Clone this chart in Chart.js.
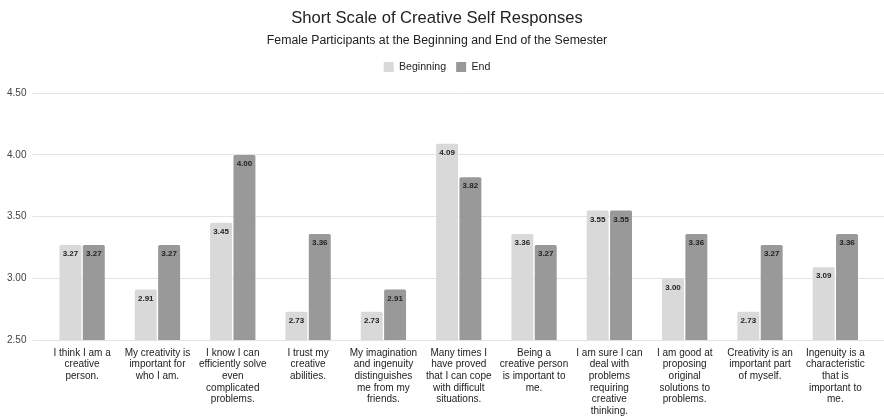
<!DOCTYPE html>
<html>
<head>
<meta charset="utf-8">
<script src="https://cdn.jsdelivr.net/npm/chart.js@4"></script>
<style>
  html, body { margin: 0; padding: 0; background: #fff; }
  #wrap { width: 884px; height: 416px; }
</style>
</head>
<body>
<div id="wrap"><canvas id="creativeChart"></canvas></div>
<script>
const statements = [
    ['I think I am a', 'creative', 'person.'],
    ['My creativity is', 'important for', 'who I am.'],
    ['I know I can', 'efficiently solve', 'even', 'complicated', 'problems.'],
    ['I trust my', 'creative', 'abilities.'],
    ['My imagination', 'and ingenuity', 'distinguishes', 'me from my', 'friends.'],
    ['Many times I', 'have proved', 'that I can cope', 'with difficult', 'situations.'],
    ['Being a', 'creative person', 'is important to', 'me.'],
    ['I am sure I can', 'deal with', 'problems', 'requiring', 'creative', 'thinking.'],
    ['I am good at', 'proposing', 'original', 'solutions to', 'problems.'],
    ['Creativity is an', 'important part', 'of myself.'],
    ['Ingenuity is a', 'characteristic', 'that is', 'important to', 'me.']
];
const beginning = [3.27, 2.91, 3.45, 2.73, 2.73, 4.09, 3.36, 3.55, 3.00, 2.73, 3.09];
const end = [3.27, 3.27, 4.00, 3.36, 2.91, 3.82, 3.27, 3.55, 3.36, 3.27, 3.36];
const yTicks = [2.5, 3.0, 3.5, 4.0, 4.5];

const FONT = "'Liberation Sans', Arial, sans-serif";

// value labels inside the top of each bar
const barValues = {
    id: 'barValues',
    afterDatasetsDraw(chart) {
        const ctx = chart.ctx;
        ctx.save();
        ctx.font = 'bold 8px ' + FONT;
        ctx.fillStyle = '#222';
        ctx.textAlign = 'center';
        ctx.textBaseline = 'middle';
        chart.data.datasets.forEach((ds, i) => {
            chart.getDatasetMeta(i).data.forEach((bar, j) => {
                ctx.fillText(ds.data[j].toFixed(2), bar.x, bar.y + 9);
            });
        });
        ctx.restore();
    }
};

// gridlines run on to the right edge of the canvas
const gridToEdge = {
    id: 'gridToEdge',
    beforeDatasetsDraw(chart) {
        const ctx = chart.ctx;
        const y = chart.scales.y;
        ctx.save();
        ctx.strokeStyle = '#e3e3e3';
        ctx.lineWidth = 1;
        y.ticks.forEach((t, i) => {
            const py = Math.round(y.getPixelForTick(i) - 0.5) + 0.5;
            ctx.beginPath();
            ctx.moveTo(chart.chartArea.right, py);
            ctx.lineTo(chart.width, py);
            ctx.stroke();
        });
        ctx.restore();
    }
};

// extra room under the legend
const legendGap = {
    id: 'legendGap',
    beforeInit(chart) {
        const fit = chart.legend.fit;
        chart.legend.fit = function () {
            fit.bind(chart.legend)();
            this.height += 11;
        };
    }
};

new Chart(document.getElementById('creativeChart').getContext('2d'), {
    type: 'bar',
    data: {
        labels: statements,
        datasets: [{
            label: 'Beginning',
            data: beginning,
            backgroundColor: '#d9d9d9',
            borderRadius: 1.5,
            borderSkipped: 'bottom',
            categoryPercentage: 0.62,
            barPercentage: 0.94
        }, {
            label: 'End',
            data: end,
            backgroundColor: '#999999',
            borderRadius: 1.5,
            borderSkipped: 'bottom',
            categoryPercentage: 0.62,
            barPercentage: 0.94
        }]
    },
    options: {
        responsive: true,
        maintainAspectRatio: false,
        animation: false,
        layout: { padding: { left: 1, right: 11, top: 0, bottom: 0 } },
        plugins: {
            title: {
                display: true,
                text: 'Short Scale of Creative Self Responses',
                color: '#222',
                font: { family: FONT, size: 16.6, weight: 'normal' },
                padding: { top: 8, bottom: 5 }
            },
            subtitle: {
                display: true,
                text: 'Female Participants at the Beginning and End of the Semester',
                color: '#222',
                font: { family: FONT, size: 12.3 },
                padding: { top: 0, bottom: 4 }
            },
            legend: {
                display: true,
                labels: {
                    boxWidth: 10,
                    boxHeight: 10,
                    padding: 10,
                    color: '#222',
                    font: { family: FONT, size: 10.6 }
                }
            },
            tooltip: { enabled: false }
        },
        scales: {
            x: {
                grid: { display: false, drawTicks: false },
                border: { display: false },
                afterFit: (scale) => { scale.height = 76; },
                ticks: {
                    color: '#222',
                    autoSkip: false,
                    maxRotation: 0,
                    minRotation: 0,
                    padding: 7,
                    font: { family: FONT, size: 10, lineHeight: 1.17 }
                }
            },
            y: {
                min: 2.5,
                max: 4.5,
                afterBuildTicks: (axis) => { axis.ticks = yTicks.map(v => ({ value: v })); },
                grid: { color: '#e3e3e3', tickLength: 12, tickColor: '#e3e3e3' },
                border: { display: false },
                ticks: {
                    color: '#444',
                    padding: 6,
                    font: { family: FONT, size: 10 },
                    callback: (v) => Number(v).toFixed(2)
                }
            }
        }
    },
    plugins: [gridToEdge, barValues, legendGap]
});
</script>
</body>
</html>
